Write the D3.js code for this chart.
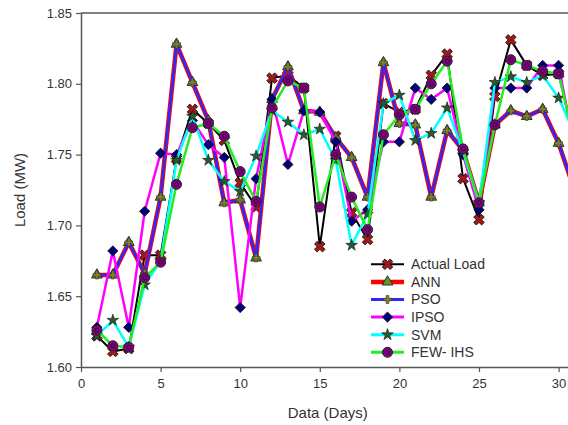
<!DOCTYPE html>
<html>
<head>
<meta charset="utf-8">
<script src="https://cdn.jsdelivr.net/npm/d3@7"></script>
<style>
  html, body { margin: 0; padding: 0; background: #fff; }
  svg { display: block; }
  text { font-family: "Liberation Sans", Arial, sans-serif; fill: #333; }
</style>
</head>
<body>
<svg id="chart" width="568" height="425"></svg>
<script>
// ---- data ----
const days = [1,2,3,4,5,6,7,8,9,10,11,12,13,14,15,16,17,18,19,20,21,22,23,24,25,26,27,28,29,30,31];
const actualLoad = [1.622,1.611,1.613,1.679,1.679,1.747,1.782,1.772,1.760,1.730,1.713,1.804,1.806,1.797,1.685,1.763,1.709,1.690,1.786,1.780,1.782,1.806,1.821,1.733,1.704,1.791,1.831,1.813,1.806,1.807,1.760];
const ann        = [1.665,1.665,1.688,1.666,1.720,1.828,1.801,1.774,1.716,1.718,1.677,1.789,1.812,1.781,1.780,1.762,1.748,1.720,1.815,1.772,1.771,1.720,1.767,1.753,1.716,1.771,1.781,1.777,1.782,1.758,1.725];
const pso        = [1.665,1.665,1.688,1.666,1.720,1.828,1.801,1.774,1.716,1.718,1.677,1.789,1.812,1.781,1.780,1.762,1.748,1.720,1.815,1.772,1.771,1.720,1.767,1.753,1.716,1.771,1.781,1.777,1.782,1.758,1.725];
const ipso       = [1.628,1.682,1.628,1.710,1.751,1.750,1.774,1.757,1.748,1.642,1.733,1.789,1.743,1.781,1.780,1.759,1.703,1.711,1.759,1.759,1.797,1.789,1.797,1.750,1.711,1.797,1.797,1.797,1.813,1.813,1.755];
const svm        = [1.622,1.633,1.614,1.658,1.675,1.746,1.777,1.746,1.731,1.724,1.749,1.781,1.773,1.764,1.768,1.746,1.686,1.708,1.786,1.792,1.760,1.765,1.783,1.752,1.716,1.801,1.805,1.801,1.806,1.790,1.765];
const fewIhs     = [1.626,1.615,1.614,1.663,1.674,1.729,1.769,1.772,1.763,1.738,1.717,1.783,1.802,1.797,1.713,1.750,1.720,1.697,1.764,1.778,1.782,1.800,1.816,1.754,1.716,1.771,1.817,1.813,1.809,1.807,1.760];
const seriesNames = ["Actual Load","ANN","PSO","IPSO","SVM","FEW- IHS"];
const yTicks = [1.60,1.65,1.70,1.75,1.80,1.85];
const xTicks = [0,5,10,15,20,25,30];

// ---- layout ----
const svg = d3.select("#chart");
const pLeft = 81, pTop = 13, pBottom = 367, pRight = 574.5;
const x = d3.scaleLinear().domain([0, 31]).range([pLeft, pRight]);
const y = d3.scaleLinear().domain([1.60, 1.85]).range([pBottom, pTop]);

// frame (top line, right line off-canvas)
svg.append("line").attr("x1", pLeft).attr("x2", pRight).attr("y1", pTop).attr("y2", pTop)
  .attr("stroke", "#555").attr("stroke-width", 1.5);
svg.append("line").attr("x1", pRight).attr("x2", pRight).attr("y1", pTop).attr("y2", pBottom)
  .attr("stroke", "#555").attr("stroke-width", 1.5);

const yAxis = svg.append("g").attr("transform", `translate(${pLeft},0)`)
  .call(d3.axisLeft(y).tickValues(yTicks).tickFormat(d3.format(".2f")).tickSize(5).tickSizeOuter(0));
const xAxis = svg.append("g").attr("transform", `translate(0,${pBottom})`)
  .call(d3.axisBottom(x).tickValues(xTicks).tickFormat(d3.format("d")).tickSize(5).tickSizeOuter(0));
[yAxis, xAxis].forEach(g => {
  g.select(".domain").attr("stroke", "#555").attr("stroke-width", 1.5);
  g.selectAll(".tick line").attr("stroke", "#555").attr("stroke-width", 1.2);
  g.selectAll(".tick text").style("font-size", "13px").attr("fill", "#333")
    .style("font-family", '"Liberation Sans", Arial, sans-serif');
});
yAxis.selectAll(".tick text").attr("x", -9);
xAxis.selectAll(".tick text").attr("y", 12);

svg.append("text").attr("transform", `translate(25,${(pTop + pBottom) / 2}) rotate(-90)`)
  .attr("text-anchor", "middle").style("font-size", "15px").text("Load (MW)");
svg.append("text").attr("x", (pLeft + pRight) / 2).attr("y", 418)
  .attr("text-anchor", "middle").style("font-size", "15px").text("Data (Days)");

// ---- marker styles ----
const xShape = d3.symbol().type(d3.symbolCross).size(70)();
const diamondShape = d3.symbol().type(d3.symbolSquare).size(52)();
const styles = [
  { values: actualLoad, color: "#000000", width: 2,   marker: (g) => g.append("path").attr("d", xShape).attr("transform", "rotate(45)").attr("fill", "#a01818").attr("stroke", "#111").attr("stroke-width", 0.8) },
  { values: ann,        color: "#ff0000", width: 4.5, marker: (g) => g.append("path").attr("d", d3.symbol().type(d3.symbolTriangle).size(50)()).attr("fill", "#5a9a2a").attr("stroke", "#222").attr("stroke-width", 0.9) },
  { values: pso,        color: "#2a2aff", width: 2.5, marker: (g) => g.append("path").attr("d", d3.symbol().type(d3.symbolCross).size(36)()).attr("fill", "#7f7f2a").attr("stroke", "#333").attr("stroke-width", 0.6) },
  { values: ipso,       color: "#ff00ff", width: 2.5, marker: (g) => g.append("path").attr("d", diamondShape).attr("transform", "rotate(45)").attr("fill", "#00007a").attr("stroke", "#111").attr("stroke-width", 0.8) },
  { values: svm,        color: "#00ffff", width: 2.5, marker: (g) => g.append("path").attr("d", d3.symbol().type(d3.symbolStar).size(42)()).attr("fill", "#2a5a2a").attr("stroke", "#111").attr("stroke-width", 0.6) },
  { values: fewIhs,     color: "#22ee22", width: 2.5, marker: (g) => { g.append("circle").attr("r", 5).attr("fill", "#800080").attr("stroke", "#222").attr("stroke-width", 1); g.append("circle").attr("r", 2).attr("fill", "none").attr("stroke", "#3a003a").attr("stroke-width", 1); } },
];

const line = d3.line().x((d, i) => x(days[i])).y(d => y(d));

styles.forEach((s) => {
  const g = svg.append("g");
  g.append("path").datum(s.values).attr("d", line).attr("fill", "none")
    .attr("stroke", s.color).attr("stroke-width", s.width).attr("stroke-linejoin", "round");
  s.values.forEach((v, i) => {
    const m = g.append("g").attr("transform", `translate(${x(days[i])},${y(v)})`);
    s.marker(m);
  });
});

// ---- legend ----
const legY0 = 264.3, legStep = 17.6, lx1 = 371, lx2 = 404, lxm = 387.5, ltx = 411;
styles.forEach((s, i) => {
  const yy = legY0 + i * legStep;
  const g = svg.append("g");
  g.append("line").attr("x1", lx1).attr("x2", lx2).attr("y1", yy).attr("y2", yy)
    .attr("stroke", s.color).attr("stroke-width", i === 1 ? 4.5 : (i === 0 ? 2 : 3));
  const m = g.append("g").attr("transform", `translate(${lxm},${yy})`);
  s.marker(m);
  g.append("text").attr("x", ltx).attr("y", yy).attr("dy", "0.35em")
    .style("font-size", "14px").attr("fill", "#222").text(seriesNames[i]);
});
</script>
</body>
</html>
